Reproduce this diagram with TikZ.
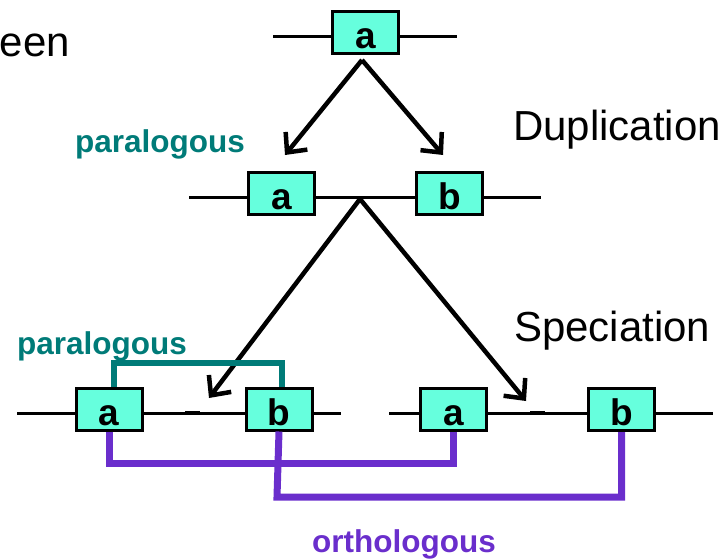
\documentclass[tikz,border=0pt]{standalone}
\usepackage{fontspec}
\setmainfont{Liberation Sans}
\usetikzlibrary{arrows.meta}
\definecolor{genefill}{HTML}{66FFDD}
\definecolor{tealc}{HTML}{007B78}
\definecolor{purp}{HTML}{6A2ECC}
\tikzset{
  gene/.style={draw=black, line width=3pt, fill=genefill, minimum width=66pt, minimum height=42pt, text height=37pt, text depth=5pt, inner sep=0pt, font=\fontsize{37}{37}\selectfont\bfseries},
  chrom/.style={line width=3pt},
  evo/.style={line width=4.5pt, -{Straight Barb[length=15pt,width=28pt,line width=4.5pt]}},
  para/.style={draw=tealc, line width=5.5pt},
  ortho/.style={draw=purp, line width=7pt},
  lab/.style={font=\fontsize{42}{42}\selectfont, anchor=base west, inner sep=0pt},
  blab/.style={font=\fontsize{31.5}{31.5}\selectfont\bfseries, anchor=base west, inner sep=0pt}
}
\begin{document}
\begin{tikzpicture}[x=1pt,y=-1pt]
\useasboundingbox (0,0) rectangle (728,559);
% chromosome lines
\coordinate (t1) at (273,37); \coordinate (t2) at (457,37);
\coordinate (m1) at (189,197); \coordinate (m2) at (541,197);
\coordinate (l1) at (17,413); \coordinate (l2) at (341,413);
\coordinate (r1) at (389,413); \coordinate (r2) at (713,413);
\draw[chrom] (t1) -- (t2);
\draw[chrom] (m1) -- (m2);
\draw[chrom] (l1) -- (l2);
\draw[chrom] (r1) -- (r2);
\coordinate (ld1) at (185,413); \coordinate (ld2) at (200,413);
\coordinate (rd1) at (530,413); \coordinate (rd2) at (545,413);
\draw[line width=4pt] (ld1) -- (ld2);
\draw[line width=4pt] (rd1) -- (rd2);
% arrows
\coordinate (apex1) at (362,60);
\coordinate (tipL1) at (285,155);
\coordinate (tipR1) at (443,155);
\coordinate (apex2) at (360,199);
\coordinate (tipL2) at (209,398);
\coordinate (tipR2) at (526,401);
\draw[evo] (apex1) -- (tipL1);
\draw[evo] (apex1) -- (tipR1);
\draw[evo] (apex2) -- (tipL2);
\draw[evo] (apex2) -- (tipR2);
% bracket corners
\coordinate (pt1) at (114,363); \coordinate (pt2) at (282,363);
\coordinate (o1) at (109,463); \coordinate (o2) at (453.5,463);
\coordinate (o3) at (277,497); \coordinate (o4) at (621.5,497);
% genes
\node[gene] (A0) at (365.5,32.5) {a};
\node[gene] (A1) at (281.5,193) {a};
\node[gene] (B1) at (449.5,193) {b};
\node[gene] (A2) at (109,409) {a};
\node[gene] (B2) at (279,409) {b};
\node[gene] (A3) at (453.5,409.5) {a};
\node[gene] (B3) at (621.5,409.5) {b};
\draw[para] (pt1 |- A2.north) -- (pt1) -- (pt2) -- (pt2 |- B2.north);
\draw[ortho] (A2.south) -- (o1) -- (o2) -- (A3.south);
\draw[ortho] (B2.south) -- (o3) -- (o4) -- (B3.south);
% labels
\node[lab, anchor=base east] (een) at (70,57) {een};
\node[lab] (dup) at (513,140) {Duplication};
\node[lab] (spec) at (514,341) {Speciation};
\node[blab, text=tealc] (p1) at (75,153) {paralogous};
\node[blab, text=tealc] (p2) at (17,354) {paralogous};
\node[blab, text=purp] (orth) at (312,552) {orthologous};
\end{tikzpicture}
\end{document}
